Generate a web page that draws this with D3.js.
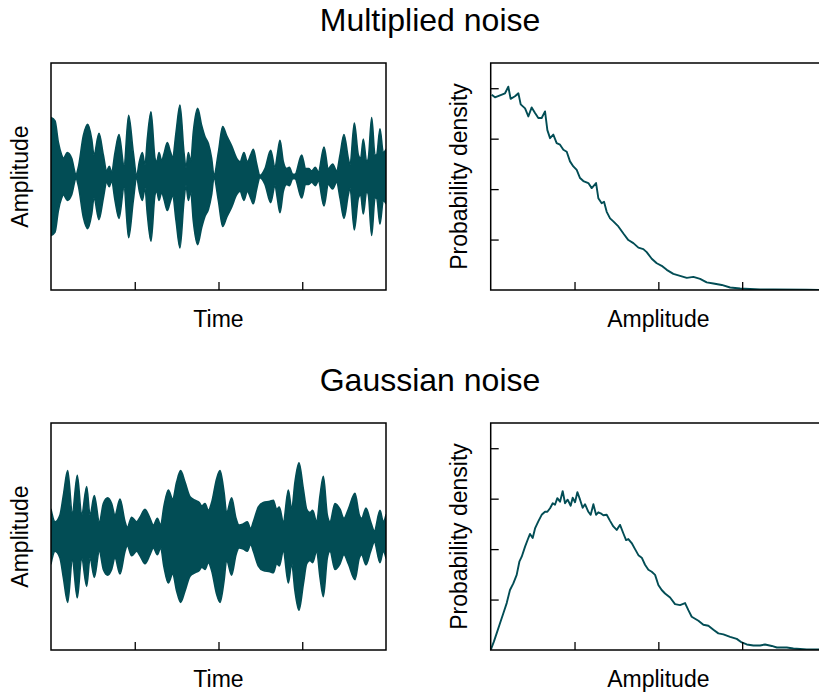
<!DOCTYPE html>
<html>
<head>
<meta charset="utf-8">
<script src="https://cdn.jsdelivr.net/npm/d3@7"></script>
<style>
  html, body { margin: 0; padding: 0; background: #fff; }
  svg { display: block; font-family: "Liberation Sans", Arial, sans-serif; }
</style>
</head>
<body>
<svg id="chart" width="819" height="693"></svg>
<script>
// ---------------- data ----------------
const panelTitles = ["Multiplied noise", "Gaussian noise"];
const timeLabel = "Time";
const ampLabel = "Amplitude";
const densLabel = "Probability density";

const timeTicks = [100, 200, 300];           // unlabeled
const ampDensTicksX = [1, 2, 3];              // unlabeled
const densTicksY = [1, 2, 3, 4];              // unlabeled

// Multiplied noise: envelope of the waveform (time, amplitude)
const multTime = [0,4.8,8.8,12.7,14.7,19.5,24.7,29.9,32.6,38.6,43.8,48.6,51.3,57.3,62.5,66.5,69.6,72.4,76.4,81.2,87.2,92.7,98.3,102.3,105.5,109.1,112.2,115.0,119.4,124.2,126.2,129.0,132.1,134.9,138.9,142.9,145.3,149.3,154.0,158.8,161.2,164.0,166.8,169.9,175.1,179.9,183.9,187.9,191.8,194.6,199.8,205.0,209.7,215.7,221.7,225.7,230.4,234.4,238.4,241.6,245.6,249.5,255.5,262.3,267.5,270.2,273.4,277.4,281.4,284.6,288.6,291.3,299.3,304.1,307.7,311.2,315.6,319.2,326.0,331.1,336.3,341.1,345.1,349.8,355.0,357.0,362.2,367.0,369.7,372.9,376.9,378.9,382.9,386.9,388.8,392.8,396.8,400];
const multEnv  = [0.52,0.49,0.30,0.19,0.16,0.21,0.16,0.02,0.08,0.36,0.46,0.33,0.19,0.38,0.19,0.05,0.09,0.04,0.21,0.37,0.10,0.54,0.21,0.01,0.13,0.21,0.10,0.33,0.57,0.16,0.13,0.21,0.14,0.20,0.30,0.21,0.17,0.39,0.63,0.21,0.08,0.21,0.13,0.39,0.60,0.45,0.35,0.29,0.16,0.01,0.21,0.44,0.36,0.27,0.16,0.13,0.21,0.13,0.19,0.24,0.11,0.01,0.07,0.23,0.08,0.19,0.32,0.13,0.07,0.08,0.02,0.02,0.19,0.07,0.07,0.05,0.08,0.04,0.26,0.07,0.11,0.05,0.19,0.37,0.16,0.10,0.47,0.19,0.16,0.33,0.13,0.16,0.52,0.19,0.19,0.42,0.21,0.24];

// Gaussian noise: envelope of the waveform (time, amplitude)
const gaussTime = [0,4.8,10.7,14.7,19.9,25.5,31.4,36.6,42.6,46.6,51.7,57.7,62.5,67.7,72.4,76.4,82.4,88.4,91.1,96.3,102.3,106.3,112.2,118.2,122.2,127.0,130.9,134.9,140.1,145.3,150.0,154.8,160.0,166.0,171.9,177.1,179.9,183.9,187.9,191.8,197.8,201.8,206.6,209.7,215.7,220.9,224.5,229.6,234.4,238.4,241.6,247.6,253.5,261.5,265.5,269.4,272.6,277.4,283.4,287.4,291.3,296.1,301.3,305.3,309.2,312.4,317.2,321.2,325.2,329.9,333.1,339.1,345.1,349.8,355.0,363.0,368.1,370.9,376.1,381.7,386.1,392.8,396.8,400];
const gaussEnv  = [0.24,0.13,0.19,0.36,0.58,0.21,0.54,0.19,0.44,0.19,0.36,0.13,0.29,0.34,0.29,0.19,0.33,0.13,0.08,0.17,0.13,0.17,0.24,0.16,0.10,0.16,0.10,0.27,0.41,0.33,0.48,0.58,0.48,0.35,0.32,0.30,0.27,0.29,0.23,0.30,0.51,0.58,0.39,0.21,0.34,0.16,0.10,0.11,0.13,0.07,0.13,0.26,0.30,0.31,0.32,0.24,0.26,0.13,0.41,0.24,0.48,0.65,0.42,0.24,0.21,0.23,0.13,0.36,0.53,0.19,0.13,0.29,0.24,0.16,0.24,0.38,0.19,0.16,0.25,0.13,0.05,0.23,0.13,0.19];

// Multiplied noise: probability density of amplitude
const multDensX = [0.012,0.051,0.111,0.171,0.210,0.238,0.290,0.330,0.358,0.410,0.449,0.489,0.529,0.568,0.608,0.648,0.676,0.708,0.747,0.787,0.827,0.867,0.907,0.946,0.986,1.026,1.066,1.105,1.165,1.205,1.257,1.284,1.324,1.352,1.384,1.424,1.463,1.523,1.583,1.642,1.702,1.762,1.821,1.861,1.921,1.981,2.040,2.100,2.179,2.259,2.339,2.418,2.498,2.577,2.657,2.756,2.856,2.975,3.094,3.214,3.373,3.770,4.0];
const multDensY = [3.87,3.82,3.86,3.90,4.03,3.79,3.84,3.90,3.68,3.60,3.44,3.62,3.51,3.41,3.41,3.54,3.17,3.01,3.08,2.91,2.88,2.78,2.74,2.55,2.45,2.38,2.22,2.16,2.12,2.02,2.12,1.82,1.72,1.75,1.55,1.42,1.36,1.26,1.12,0.99,0.93,0.84,0.81,0.75,0.62,0.53,0.48,0.40,0.32,0.28,0.24,0.26,0.22,0.15,0.13,0.10,0.05,0.03,0.02,0.01,0.01,0.005,0.0];

// Gaussian noise: probability density of amplitude
const gaussDensX = [0,0.039,0.071,0.111,0.151,0.191,0.230,0.270,0.310,0.342,0.370,0.410,0.449,0.469,0.501,0.529,0.568,0.608,0.648,0.676,0.708,0.740,0.767,0.795,0.827,0.859,0.887,0.918,0.954,0.978,1.006,1.034,1.066,1.097,1.125,1.165,1.193,1.225,1.257,1.284,1.312,1.344,1.384,1.424,1.463,1.503,1.543,1.583,1.615,1.642,1.682,1.722,1.762,1.802,1.841,1.881,1.921,1.961,2.000,2.040,2.080,2.140,2.199,2.259,2.319,2.358,2.398,2.438,2.478,2.537,2.597,2.657,2.716,2.776,2.856,2.935,2.995,3.055,3.134,3.214,3.273,3.353,3.413,3.532,3.611,3.691,3.770,3.918,4.0];
const gaussDensY = [0,0.17,0.33,0.53,0.73,0.93,1.19,1.32,1.49,1.75,1.85,2.05,2.22,2.30,2.22,2.41,2.55,2.68,2.74,2.74,2.81,2.91,2.88,3.01,2.94,3.15,2.91,2.98,2.86,3.02,2.93,3.13,2.98,2.82,2.89,2.74,2.68,2.89,2.68,2.73,2.71,2.67,2.68,2.56,2.45,2.38,2.48,2.31,2.18,2.20,2.12,2.00,1.88,1.83,1.69,1.59,1.55,1.49,1.29,1.19,1.12,1.04,0.91,0.89,0.93,0.79,0.66,0.62,0.58,0.50,0.48,0.40,0.33,0.31,0.26,0.22,0.15,0.11,0.09,0.09,0.11,0.08,0.05,0.05,0.03,0.02,0.01,0.01,0.0];

// ---------------- drawing ----------------
const color = "#024d55";
const svg = d3.select("#chart");

const rows = [
  { title: panelTitles[0], top: 63, bottom: 290, envT: multTime, envA: multEnv, dx: multDensX, dy: multDensY },
  { title: panelTitles[1], top: 423, bottom: 650, envT: gaussTime, envA: gaussEnv, dx: gaussDensX, dy: gaussDensY }
];
const leftX = [51, 386];
const rightX = [490.7, 826];
const tickLen = 8;

rows.forEach((r, i) => {
  // title
  svg.append("text")
    .attr("x", 430).attr("y", r.top - 32)
    .attr("text-anchor", "middle")
    .attr("font-size", 32)
    .attr("fill", "#000")
    .text(r.title);

  // ---------- left panel: waveform ----------
  const xT = d3.scaleLinear().domain([0, 400]).range(leftX);
  const yA = d3.scaleLinear().domain([-1, 1]).range([r.bottom, r.top]);
  const clipId = "clipL" + i;
  svg.append("clipPath").attr("id", clipId)
    .append("rect").attr("x", leftX[0]).attr("y", r.top)
    .attr("width", leftX[1] - leftX[0]).attr("height", r.bottom - r.top);

  const env = r.envT.map((t, k) => ({ t, a: r.envA[k] }));
  const area = d3.area()
    .x(d => xT(d.t))
    .y0(d => yA(-d.a))
    .y1(d => yA(d.a))
    .curve(d3.curveMonotoneX);
  svg.append("path")
    .datum(env)
    .attr("clip-path", `url(#${clipId})`)
    .attr("d", area)
    .attr("fill", color)
    .attr("stroke", color)
    .attr("stroke-width", 1.6)
    .attr("stroke-linejoin", "round");

  // frame
  svg.append("rect")
    .attr("x", leftX[0]).attr("y", r.top)
    .attr("width", leftX[1] - leftX[0]).attr("height", r.bottom - r.top)
    .attr("fill", "none").attr("stroke", "#000").attr("stroke-width", 1.5);

  // x ticks (inward, no labels)
  const axL = svg.append("g")
    .attr("transform", `translate(0,${r.bottom})`)
    .call(d3.axisTop(xT).tickValues(timeTicks).tickSize(tickLen).tickFormat(""));
  axL.select(".domain").remove();
  axL.selectAll("line").attr("stroke", "#000").attr("stroke-width", 1.3);

  svg.append("text")
    .attr("x", (leftX[0] + leftX[1]) / 2).attr("y", r.bottom + 37)
    .attr("text-anchor", "middle").attr("font-size", 23)
    .text(timeLabel);
  svg.append("text")
    .attr("transform", `translate(28,${(r.top + r.bottom) / 2}) rotate(-90)`)
    .attr("text-anchor", "middle").attr("font-size", 23)
    .text(ampLabel);

  // ---------- right panel: density ----------
  const xD = d3.scaleLinear().domain([0, 4]).range(rightX);
  const yD = d3.scaleLinear().domain([0, 4.5]).range([r.bottom, r.top]);
  const clipR = "clipR" + i;
  svg.append("clipPath").attr("id", clipR)
    .append("rect").attr("x", rightX[0]).attr("y", r.top)
    .attr("width", rightX[1] - rightX[0]).attr("height", r.bottom - r.top);

  const pts = r.dx.map((x, k) => ({ x, y: r.dy[k] }));
  const line = d3.line().x(d => xD(d.x)).y(d => yD(d.y));
  svg.append("path")
    .datum(pts)
    .attr("clip-path", `url(#${clipR})`)
    .attr("d", line)
    .attr("fill", "none")
    .attr("stroke", color)
    .attr("stroke-width", 1.9)
    .attr("stroke-linejoin", "round");

  svg.append("rect")
    .attr("x", rightX[0]).attr("y", r.top)
    .attr("width", rightX[1] - rightX[0]).attr("height", r.bottom - r.top)
    .attr("fill", "none").attr("stroke", "#000").attr("stroke-width", 1.5);

  const axRx = svg.append("g")
    .attr("transform", `translate(0,${r.bottom})`)
    .call(d3.axisTop(xD).tickValues(ampDensTicksX).tickSize(tickLen).tickFormat(""));
  axRx.select(".domain").remove();
  axRx.selectAll("line").attr("stroke", "#000").attr("stroke-width", 1.3);

  const axRy = svg.append("g")
    .attr("transform", `translate(${rightX[0]},0)`)
    .call(d3.axisRight(yD).tickValues(densTicksY).tickSize(tickLen).tickFormat(""));
  axRy.select(".domain").remove();
  axRy.selectAll("line").attr("stroke", "#000").attr("stroke-width", 1.3);

  svg.append("text")
    .attr("x", (rightX[0] + rightX[1]) / 2).attr("y", r.bottom + 37)
    .attr("text-anchor", "middle").attr("font-size", 23)
    .text(ampLabel);
  svg.append("text")
    .attr("transform", `translate(467,${(r.top + r.bottom) / 2}) rotate(-90)`)
    .attr("text-anchor", "middle").attr("font-size", 23)
    .text(densLabel);
});
</script>
</body>
</html>
